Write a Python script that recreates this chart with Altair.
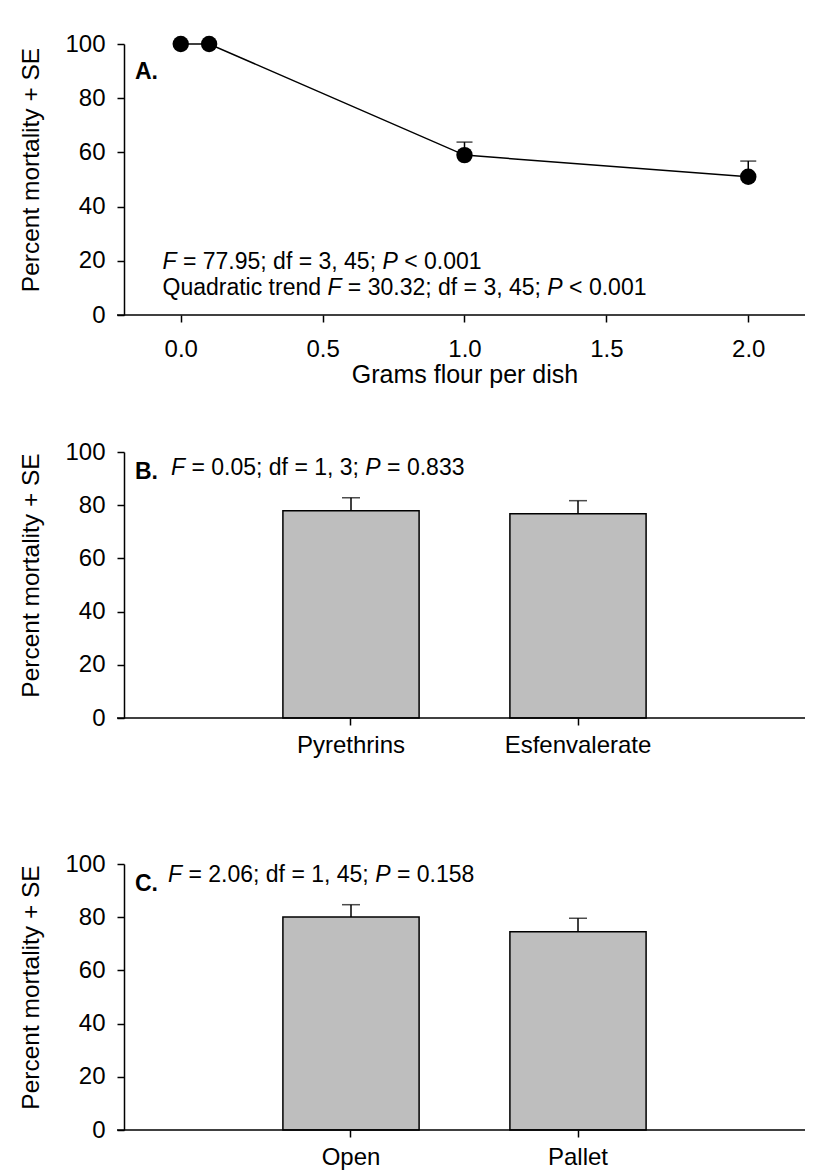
import altair as alt
import pandas as pd

# ---------------- data ----------------
dose = [0.0, 0.1, 1.0, 2.0]
mort_a = [100, 100, 59.0, 51.0]
se_a = [0, 0, 4.8, 5.8]

insecticides = ["Pyrethrins", "Esfenvalerate"]
mort_b = [77.9, 76.8]
se_b = [4.9, 4.9]

storage = ["Open", "Pallet"]
mort_c = [80.1, 74.5]
se_c = [4.6, 5.1]

y_ticks = [0, 20, 40, 60, 80, 100]
x_ticks_a = [0.0, 0.5, 1.0, 1.5, 2.0]

FONT = "Liberation Sans"
W = 681

# Arial / Liberation Sans advance widths (per 1000 em)
AW = {" ": 278, "=": 584, ".": 278, ";": 278, ",": 278, "<": 584, "F": 611, "P": 667,
      "Q": 778, "u": 556, "a": 556, "d": 556, "r": 333, "t": 278, "i": 222, "c": 500,
      "e": 556, "n": 556, "f": 278}
for dgt in "0123456789":
    AW[dgt] = 556


def tw(s, size):
    return sum(AW.get(ch, 556) for ch in s) * size / 1000.0


def rich_text(segments, x0, yval, size):
    """segments: list of (text, italic). Returns list of text layers."""
    layers = []
    x = x0
    for txt, ital in segments:
        stripped = txt.lstrip(" ")
        lead = len(txt) - len(stripped)
        px = x + tw(" " * lead, size)
        layers.append(
            alt.Chart(pd.DataFrame({"t": [stripped.rstrip(" ")]}))
            .mark_text(align="left", baseline="middle", font=FONT, fontSize=size,
                       fontStyle="italic" if ital else "normal", color="black")
            .encode(x=alt.value(px), y=alt.datum(yval), text="t:N")
        )
        x += tw(txt, size)
    return layers


def label(txt, x0, yval, size=23):
    return (alt.Chart(pd.DataFrame({"t": [txt]}))
            .mark_text(align="left", baseline="middle", font=FONT, fontSize=size,
                       fontWeight="bold", color="black")
            .encode(x=alt.value(x0), y=alt.datum(yval), text="t:N"))


def y_enc(field, h):
    return alt.Y(field, scale=alt.Scale(domain=[0, 100], nice=False, zero=True),
                 axis=alt.Axis(values=y_ticks, title="Percent mortality + SE",
                               titleFontSize=24.5, titleFont=FONT, titleFontWeight="normal",
                               titlePadding=21, titleY=h / 2 - 10,
                               labelFontSize=24, labelFont=FONT,
                               labelPadding=12, tickSize=7, tickWidth=1.5, domainWidth=1.5,
                               domainColor="black", tickColor="black", labelColor="black",
                               titleColor="black", grid=False))


def xline():
    return alt.Chart(pd.DataFrame({"a": [0]})).mark_rule(color="black", strokeWidth=1.5).encode(
        x=alt.value(-7), x2=alt.value(W), y=alt.datum(0))


SIZE = 23
HA = 271
HB = 266

# ---------------- Panel A ----------------
dfa = pd.DataFrame({"dose": dose, "m": mort_a, "se": se_a})
dfa["top"] = dfa["m"] + dfa["se"]
dfa_err = dfa[dfa["se"] > 0]

xa = alt.X("dose:Q", scale=alt.Scale(domain=[-0.2, 2.2], nice=False, zero=False),
           axis=alt.Axis(values=x_ticks_a, format=".1f", title="Grams flour per dish",
                         titleFontSize=25, titleFont=FONT, titleFontWeight="normal",
                         titlePadding=1, labelFontSize=24, labelFont=FONT, labelPadding=15,
                         tickSize=7, tickWidth=1.5, domain=False, tickColor="black",
                         labelColor="black", titleColor="black", grid=False))

base_a = alt.Chart(dfa)
err_a = alt.Chart(dfa_err).mark_rule(color="black", strokeWidth=1.5).encode(
    x="dose:Q", y="m:Q", y2="top:Q")
cap_a = alt.Chart(dfa_err).mark_tick(color="black", thickness=1.5, size=16,
                                     orient="horizontal").encode(x="dose:Q", y="top:Q")
line_a = base_a.mark_line(color="black", strokeWidth=1.5).encode(x=xa, y=y_enc("m:Q", HA))
pts_a = base_a.mark_circle(color="black", opacity=1, size=270).encode(x="dose:Q", y="m:Q")

ann_a = rich_text([("F", True), (" = 77.95; df = 3, 45; ", False), ("P", True),
                   (" < 0.001", False)], 38.5, 19.5, SIZE)
ann_a += rich_text([("Quadratic trend ", False), ("F", True),
                    (" = 30.32; df = 3, 45; ", False), ("P", True), (" < 0.001", False)],
                   38.5, 10.0, SIZE)

panel_a = alt.layer(line_a, xline(), err_a, cap_a, pts_a, label("A.", 11, 89.5),
                    *ann_a).properties(width=W, height=HA)


# ---------------- Bar panels ----------------
def bar_panel(cats, vals, ses, letter, stat, letter_y, stat_x, stat_y, h):
    df = pd.DataFrame({"c": cats, "m": vals, "se": ses})
    df["top"] = df["m"] + df["se"]
    xb = alt.X("c:N", sort=cats,
               scale=alt.Scale(paddingInner=0.4, paddingOuter=0.7),
               axis=alt.Axis(title=None, labelAngle=0, labelAlign="center",
                             labelFontSize=24, labelFont=FONT,
                             labelPadding=8, tickSize=7, tickWidth=1.5, domain=False,
                             tickColor="black", labelColor="black", grid=False))
    bars = alt.Chart(df).mark_bar(fill="#BEBEBE", stroke="black", strokeWidth=1.5).encode(
        x=xb, y=y_enc("m:Q", h))
    err = alt.Chart(df).mark_rule(color="black", strokeWidth=1.5).encode(
        x=alt.X("c:N", sort=cats), y="m:Q", y2="top:Q")
    cap = alt.Chart(df).mark_tick(color="black", thickness=1.5, size=18,
                                  orient="horizontal").encode(
        x=alt.X("c:N", sort=cats, bandPosition=0.5), y="top:Q")
    ann = rich_text(stat, stat_x, stat_y, SIZE)
    return alt.layer(bars, err, cap, xline(), label(letter, 11, letter_y),
                     *ann).properties(width=W, height=h)


panel_b = bar_panel(insecticides, mort_b, se_b, "B.",
                    [("F", True), (" = 0.05; df = 1, 3; ", False), ("P", True),
                     (" = 0.833", False)], 92.5, 47, 94, HB)
panel_c = bar_panel(storage, mort_c, se_c, "C.",
                    [("F", True), (" = 2.06; df = 1, 45; ", False), ("P", True),
                     (" = 0.158", False)], 92.5, 44, 96, HB)

chart = alt.vconcat(panel_a, alt.vconcat(panel_b, panel_c, spacing=95), spacing=53).properties(
    padding={"top": 24, "left": 10, "right": 5, "bottom": 2},
    background="white",
).configure_view(stroke=None).configure_axis(labelFont=FONT, titleFont=FONT)

chart.save("out.html", embed_options={"renderer": "svg", "actions": False})
